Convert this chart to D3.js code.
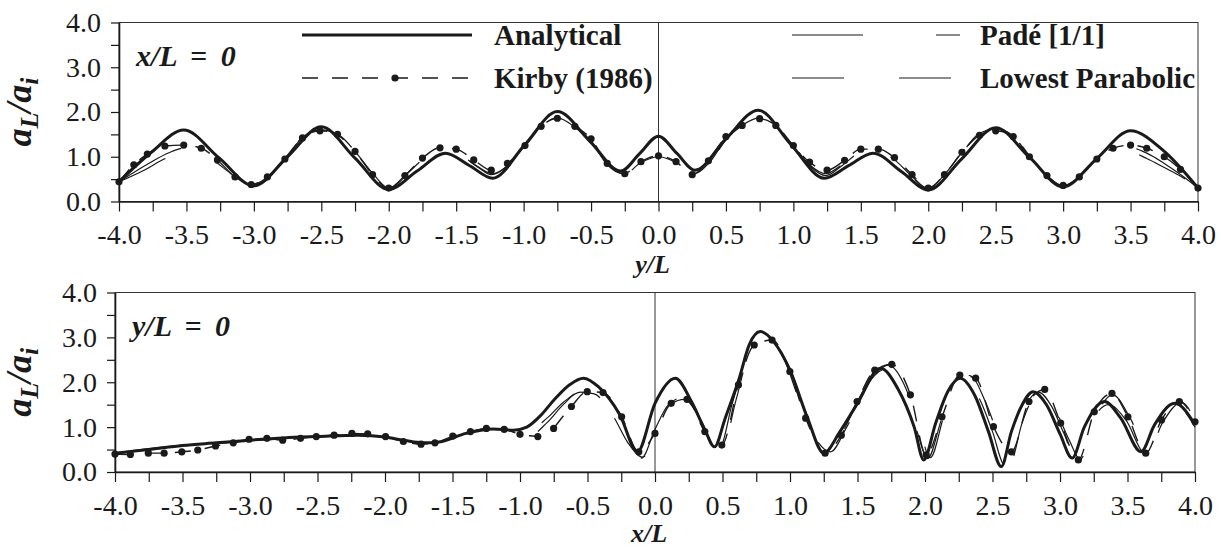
<!DOCTYPE html>
<html>
<head>
<meta charset="utf-8">
<script src="https://cdn.jsdelivr.net/npm/d3@7"></script>
<style>
  body { margin: 0; background: #fff; }
  svg text { font-family: "Liberation Serif", "DejaVu Serif", "Noto Serif", Times, serif; fill: #1a1a1a; }
</style>
</head>
<body>
<div id="chart"></div>
<script>
// tick values
var xTickValues = [-4, -3.75, -3.5, -3.25, -3, -2.75, -2.5, -2.25, -2, -1.75, -1.5, -1.25, -1, -0.75, -0.5, -0.25,
    0, 0.25, 0.5, 0.75, 1, 1.25, 1.5, 1.75, 2, 2.25, 2.5, 2.75, 3, 3.25, 3.5, 3.75, 4];
var xLabelValues = [-4, -3.5, -3, -2.5, -2, -1.5, -1, -0.5, 0, 0.5, 1, 1.5, 2, 2.5, 3, 3.5, 4];
var yTickValues = [0, 0.5, 1, 1.5, 2, 2.5, 3, 3.5, 4];
var yLabelValues = [0, 1, 2, 3, 4];

var seriesNames = ["Analytical", "Kirby (1986)", "Padé [1/1]", "Lowest Parabolic"];

// top panel, x/L = 0, against y/L
var topAnalytical = [[-4.0, 0.44], [-3.76, 1.1], [-3.52, 1.60], [-3.26, 0.98], [-3.0, 0.35], [-2.75, 1.0], [-2.5, 1.67],
    [-2.25, 0.97], [-2.0, 0.27], [-1.79, 0.68], [-1.58, 1.08], [-1.4, 0.8], [-1.23, 0.52], [-0.99, 1.27], [-0.75, 2.01],
    [-0.51, 1.35], [-0.28, 0.68], [-0.14, 1.07], [0.0, 1.46], [0.135, 1.08], [0.27, 0.70], [0.5, 1.4], [0.74, 2.04],
    [0.98, 1.28], [1.23, 0.52], [1.41, 0.8], [1.59, 1.08], [1.8, 0.67], [2.0, 0.26], [2.25, 0.96], [2.5, 1.65],
    [2.75, 0.99], [3.0, 0.33], [3.25, 0.96], [3.5, 1.58], [3.75, 1.12], [4.0, 0.30]];
var topKirby = [[-4.0, 0.44], [-3.89, 0.82], [-3.79, 1.06], [-3.66, 1.24], [-3.52, 1.26], [-3.39, 1.19], [-3.27, 0.93],
    [-3.14, 0.55], [-3.02, 0.38], [-2.9, 0.55], [-2.77, 0.95], [-2.64, 1.42], [-2.51, 1.58], [-2.38, 1.5], [-2.25, 1.12],
    [-2.12, 0.6], [-2.0, 0.3], [-1.88, 0.58], [-1.75, 0.97], [-1.62, 1.2], [-1.5, 1.17], [-1.37, 0.93], [-1.24, 0.70],
    [-1.12, 0.85], [-0.99, 1.25], [-0.87, 1.68], [-0.75, 1.86], [-0.62, 1.68], [-0.5, 1.4], [-0.38, 0.85], [-0.25, 0.62],
    [-0.13, 0.89], [0.0, 1.02], [0.13, 0.89], [0.25, 0.6], [0.37, 0.91], [0.5, 1.45], [0.62, 1.7], [0.75, 1.85],
    [0.87, 1.7], [1.0, 1.25], [1.12, 0.88], [1.25, 0.70], [1.38, 0.92], [1.5, 1.17], [1.63, 1.17], [1.75, 0.98],
    [1.88, 0.6], [2.0, 0.3], [2.12, 0.6], [2.25, 1.1], [2.38, 1.48], [2.5, 1.58], [2.63, 1.45], [2.75, 1.0],
    [2.88, 0.58], [3.0, 0.36], [3.12, 0.55], [3.25, 0.95], [3.37, 1.19], [3.5, 1.26], [3.62, 1.19], [3.75, 1.0],
    [3.87, 0.72], [4.0, 0.30]];
var topPade = [[-4.0, 0.44], [-3.78, 0.85], [-3.63, 1.09], [-3.5, 1.2], [-3.38, 1.12], [-3.26, 0.9], [-3.13, 0.56],
    [-3.01, 0.37], [-2.9, 0.55], [-2.77, 0.97], [-2.63, 1.45], [-2.5, 1.62], [-2.37, 1.5], [-2.24, 1.08], [-2.11, 0.6],
    [-2.0, 0.29], [-1.88, 0.55], [-1.75, 0.92], [-1.6, 1.14], [-1.45, 1.0], [-1.33, 0.75], [-1.24, 0.6], [-1.12, 0.8],
    [-1.0, 1.25], [-0.87, 1.7], [-0.75, 1.9], [-0.62, 1.68], [-0.5, 1.35], [-0.38, 0.82], [-0.26, 0.62], [-0.13, 0.88],
    [0.0, 1.02], [0.13, 0.88], [0.26, 0.62], [0.38, 0.88], [0.5, 1.4], [0.62, 1.72], [0.75, 1.9], [0.87, 1.7],
    [1.0, 1.25], [1.12, 0.8], [1.24, 0.58], [1.36, 0.8], [1.5, 1.1], [1.62, 1.14], [1.75, 0.92], [1.88, 0.55],
    [2.0, 0.28], [2.12, 0.6], [2.25, 1.1], [2.37, 1.52], [2.5, 1.64], [2.63, 1.48], [2.76, 0.98], [2.89, 0.55],
    [3.0, 0.34], [3.12, 0.56], [3.25, 0.95], [3.38, 1.15], [3.5, 1.2], [3.62, 1.08], [3.75, 0.85], [3.88, 0.58],
    [4.0, 0.30]];
var topLowest = [[-4.0, 0.44], [-3.8, 0.72], [-3.69, 0.91], [-3.55, 1.08], [-3.42, 1.1], [-3.3, 0.92], [-3.16, 0.6],
    [-3.02, 0.36], [-2.9, 0.56], [-2.77, 0.98], [-2.63, 1.46], [-2.5, 1.6], [-2.37, 1.47], [-2.24, 1.05], [-2.11, 0.58],
    [-2.0, 0.3], [-1.88, 0.58], [-1.74, 0.95], [-1.6, 1.12], [-1.46, 1.02], [-1.34, 0.78], [-1.23, 0.62], [-1.11, 0.82],
    [-0.99, 1.25], [-0.87, 1.68], [-0.75, 1.87], [-0.62, 1.66], [-0.5, 1.33], [-0.38, 0.8], [-0.26, 0.6], [-0.13, 0.87],
    [0.0, 1.0], [0.13, 0.87], [0.26, 0.6], [0.38, 0.86], [0.5, 1.38], [0.62, 1.7], [0.75, 1.87], [0.87, 1.68],
    [1.0, 1.25], [1.12, 0.82], [1.24, 0.62], [1.36, 0.82], [1.5, 1.08], [1.62, 1.12], [1.75, 0.93], [1.88, 0.56],
    [2.0, 0.29], [2.12, 0.58], [2.25, 1.08], [2.37, 1.5], [2.5, 1.62], [2.63, 1.47], [2.76, 0.97], [2.89, 0.55],
    [3.0, 0.35], [3.12, 0.55], [3.25, 0.92], [3.38, 1.08], [3.5, 1.1], [3.62, 0.96], [3.75, 0.76], [3.88, 0.55],
    [4.0, 0.30]];

// bottom panel, y/L = 0, against x/L
var botAnalytical = [[-4.0, 0.42], [-3.75, 0.5], [-3.5, 0.59], [-3.25, 0.65], [-3.0, 0.71], [-2.75, 0.76], [-2.5, 0.79],
    [-2.2, 0.82], [-2.0, 0.78], [-1.85, 0.7], [-1.72, 0.65], [-1.6, 0.67], [-1.4, 0.86], [-1.2, 0.96], [-1.05, 0.93],
    [-0.95, 1.0], [-0.85, 1.25], [-0.75, 1.6], [-0.63, 1.95], [-0.53, 2.09], [-0.42, 1.9], [-0.26, 1.27], [-0.13, 0.45],
    [0.0, 1.53], [0.15, 2.09], [0.27, 1.57], [0.37, 0.94], [0.44, 0.56], [0.52, 1.2], [0.62, 2.05], [0.7, 2.85],
    [0.78, 3.13], [0.88, 2.9], [1.0, 2.27], [1.13, 1.2], [1.25, 0.42], [1.37, 0.9], [1.5, 1.53], [1.67, 2.31],
    [1.8, 1.85], [1.92, 1.0], [1.99, 0.27], [2.08, 1.1], [2.17, 1.8], [2.26, 2.09], [2.37, 1.7], [2.47, 0.9],
    [2.565, 0.12], [2.64, 0.9], [2.72, 1.5], [2.80, 1.79], [2.9, 1.5], [3.0, 0.85], [3.09, 0.31], [3.18, 1.0],
    [3.33, 1.57], [3.45, 1.2], [3.6, 0.45], [3.7, 1.05], [3.85, 1.53], [4.0, 1.05]];
var botKirby = [[-4.0, 0.40], [-3.886, 0.39], [-3.753, 0.42], [-3.636, 0.42], [-3.505, 0.45], [-3.387, 0.49],
    [-3.255, 0.58], [-3.124, 0.65], [-3.007, 0.73], [-2.875, 0.75], [-2.758, 0.71], [-2.626, 0.75], [-2.509, 0.79],
    [-2.377, 0.82], [-2.245, 0.86], [-2.128, 0.85], [-1.996, 0.79], [-1.864, 0.68], [-1.733, 0.62], [-1.63, 0.65],
    [-1.498, 0.80], [-1.367, 0.90], [-1.249, 0.97], [-1.117, 0.95], [-1.0, 0.84], [-0.868, 0.79], [-0.81, null],
    [-0.751, 0.97], [-0.619, 1.46], [-0.502, 1.79], [-0.385, 1.77], [-0.247, 1.23], [-0.12, 0.45], [0.0, 0.86],
    [0.12, 1.53], [0.237, 1.62], [0.369, 0.90], [0.495, 0.60], [0.618, 1.94], [0.735, 2.83], [0.867, 2.94],
    [0.999, 2.24], [1.116, 1.20], [1.26, 0.42], [1.38, 0.82], [1.497, 1.57], [1.628, 2.27], [1.754, 2.40],
    [1.892, 1.72], [2.009, 0.38], [2.126, 1.23], [2.258, 2.16], [2.375, 2.09], [2.507, 1.01], [2.64, 0.45],
    [2.77, 1.57], [2.887, 1.84], [3.005, 1.09], [3.136, 0.27], [3.254, 1.34], [3.385, 1.75], [3.503, 1.23],
    [3.635, 0.42], [3.752, 1.16], [3.884, 1.57], [4.0, 1.12]];
var botPade = [[-4.0, 0.42], [-3.75, 0.52], [-3.5, 0.6], [-3.25, 0.66], [-3.0, 0.72], [-2.75, 0.76], [-2.5, 0.8],
    [-2.25, 0.83], [-2.0, 0.79], [-1.85, 0.7], [-1.72, 0.64], [-1.6, 0.67], [-1.4, 0.86], [-1.2, 0.95], [-1.05, 0.92],
    [-0.92, 0.95], [-0.8, 1.2], [-0.68, 1.55], [-0.55, 1.78], [-0.45, 1.74], [-0.32, 1.3], [-0.2, 0.7], [-0.1, 0.31],
    [0.0, 0.95], [0.1, 1.5], [0.2, 1.65], [0.3, 1.35], [0.4, 0.8], [0.48, 0.55], [0.57, 1.5], [0.68, 2.6],
    [0.8, 3.05], [0.9, 2.85], [1.02, 2.1], [1.15, 1.1], [1.28, 0.42], [1.4, 0.95], [1.55, 1.85], [1.7, 2.28],
    [1.82, 1.8], [1.93, 1.0], [2.02, 0.3], [2.12, 1.15], [2.2, 1.8], [2.29, 2.05], [2.4, 1.65], [2.5, 0.9],
    [2.59, 0.15], [2.68, 0.95], [2.76, 1.55], [2.84, 1.78], [2.94, 1.45], [3.03, 0.85], [3.12, 0.28], [3.22, 1.05],
    [3.36, 1.5], [3.49, 1.15], [3.63, 0.42], [3.73, 1.05], [3.87, 1.45], [4.0, 1.0]];
var botLowest = [[-4.0, 0.4], [-3.75, 0.5], [-3.5, 0.57], [-3.25, 0.63], [-3.0, 0.7], [-2.75, 0.74], [-2.5, 0.78],
    [-2.25, 0.82], [-2.0, 0.78], [-1.85, 0.68], [-1.72, 0.62], [-1.6, 0.66], [-1.4, 0.87], [-1.2, 0.96], [-1.05, 0.9],
    [-0.92, 0.83], [-0.8, 1.1], [-0.68, 1.5], [-0.55, 1.8], [-0.42, 1.75], [-0.3, 1.2], [-0.2, 0.65], [-0.09, 0.33],
    [0.02, 0.98], [0.12, 1.52], [0.22, 1.62], [0.33, 1.2], [0.42, 0.72], [0.5, 0.55], [0.6, 1.6], [0.7, 2.65],
    [0.83, 2.98], [0.95, 2.55], [1.08, 1.5], [1.2, 0.7], [1.3, 0.45], [1.42, 1.0], [1.58, 1.95], [1.73, 2.38],
    [1.86, 1.85], [1.96, 0.95], [2.04, 0.32], [2.14, 1.25], [2.24, 2.0], [2.33, 2.15], [2.45, 1.55], [2.55, 0.75],
    [2.63, 0.2], [2.72, 1.1], [2.8, 1.65], [2.88, 1.82], [2.98, 1.3], [3.07, 0.7], [3.15, 0.28], [3.26, 1.2],
    [3.39, 1.72], [3.52, 1.2], [3.65, 0.43], [3.76, 1.1], [3.9, 1.55], [4.0, 1.15]];

var ink = "#1a1a1a";
var serif = "'Liberation Serif', 'DejaVu Serif', 'Noto Serif', Times, serif";
var svg = d3.select("#chart").append("svg")
    .attr("width", 1221)
    .attr("height", 548);

var panels = [
    { left: 119, right: 1198, top: 22.5, bottom: 201.5, label: ["x", "/L = 0"], title: ["y", "/L"], titleY: 273,
      data: [topPade, topLowest, topKirby, topAnalytical] },
    { left: 115, right: 1195, top: 292.5, bottom: 472, label: ["y", "/L = 0"], title: ["x", "/L"], titleY: 542,
      data: [botPade, botLowest, botKirby, botAnalytical] }
];

var styles = [
    { width: 1.2, dash: "71 73" },
    { width: 1.2, dash: "52 55" },
    { width: 1.4, dash: "16 14" },
    { width: 3, dash: null }
];

panels.forEach(function (p) {
    var x = d3.scaleLinear().domain([-4, 4]).range([p.left, p.right]);
    var y = d3.scaleLinear().domain([0, 4]).range([p.bottom, p.top]);

    var g = svg.append("g");

    // frame
    g.append("rect")
        .attr("x", p.left).attr("y", p.top)
        .attr("width", p.right - p.left).attr("height", p.bottom - p.top)
        .attr("fill", "none").attr("stroke", "#333").attr("stroke-width", 1);

    // zero line
    g.append("line")
        .attr("x1", x(0)).attr("x2", x(0))
        .attr("y1", p.top).attr("y2", p.bottom)
        .attr("stroke", "#333").attr("stroke-width", 1);

    var xAxis = d3.axisBottom(x)
        .tickValues(xTickValues)
        .tickSize(10)
        .tickSizeOuter(0)
        .tickPadding(13)
        .tickFormat(function (d) {
            return xLabelValues.indexOf(d) >= 0 ? d.toFixed(1) : "";
        });
    var gx = g.append("g")
        .attr("transform", "translate(0," + p.bottom + ")")
        .call(xAxis);

    var yAxis = d3.axisLeft(y)
        .tickValues(yTickValues)
        .tickSize(8)
        .tickSizeOuter(0)
        .tickPadding(10)
        .tickFormat(function (d) {
            return yLabelValues.indexOf(d) >= 0 ? d.toFixed(1) : "";
        });
    var gy = g.append("g")
        .attr("transform", "translate(" + p.left + ",0)")
        .call(yAxis);

    [gx, gy].forEach(function (a) {
        a.attr("font-size", 28).attr("font-family", serif);
        a.select(".domain").attr("stroke", ink).attr("stroke-width", 1.6);
        a.selectAll(".tick line").attr("stroke", ink).attr("stroke-width", 1.2);
        a.selectAll(".tick text").attr("fill", ink).style("font-family", serif);
    });

    // curves
    var line = d3.line()
        .defined(function (d) { return d[1] != null; })
        .x(function (d) { return x(d[0]); })
        .y(function (d) { return y(d[1]); })
        .curve(d3.curveMonotoneX);

    p.data.forEach(function (s, i) {
        g.append("path")
            .datum(s)
            .attr("d", line)
            .attr("fill", "none")
            .attr("stroke", ink)
            .attr("stroke-width", styles[i].width)
            .attr("stroke-dasharray", styles[i].dash)
            .attr("stroke-linejoin", "round");
    });

    // Kirby markers
    g.selectAll(".dot")
        .data(p.data[2].filter(function (d) { return d[1] != null; }))
        .enter()
        .append("circle")
        .attr("cx", function (d) { return x(d[0]); })
        .attr("cy", function (d) { return y(d[1]); })
        .attr("r", 3.6)
        .attr("fill", ink);

    // panel label
    var lab = g.append("text")
        .attr("x", p.left + 17)
        .attr("y", p.top + 43)
        .attr("font-size", 30)
        .attr("font-weight", "bold")
        .attr("font-style", "italic")
        .attr("word-spacing", 6)
        .style("font-family", serif);
    lab.append("tspan").text(p.label[0]);
    lab.append("tspan").text(p.label[1]);

    // axis title
    var t = g.append("text")
        .attr("x", x(0) - 6)
        .attr("y", p.titleY)
        .attr("text-anchor", "middle")
        .attr("font-size", 26)
        .attr("font-weight", "bold")
        .attr("font-style", "italic")
        .style("font-family", serif);
    t.append("tspan").text(p.title[0]);
    t.append("tspan").text(p.title[1]);

    // y title a_L / a_i
    var yt = g.append("text")
        .attr("transform", "translate(31," + ((p.top + p.bottom) / 2) + ") rotate(-90)")
        .attr("text-anchor", "middle")
        .attr("font-size", 36)
        .attr("font-weight", "bold")
        .attr("font-style", "italic")
        .style("font-family", serif);
    yt.append("tspan").text("a");
    yt.append("tspan").attr("dy", 7).attr("font-size", 26).text("L");
    yt.append("tspan").attr("dy", -7).text("/a");
    yt.append("tspan").attr("dy", 7).attr("font-size", 26).text("i");
});

// legend
var legend = svg.append("g");
var legendItems = [
    { x1: 302, x2: 472, y: 35, tx: 494, style: styles[3], name: seriesNames[0], dot: false },
    { x1: 302, x2: 472, y: 78, tx: 494, style: styles[2], name: seriesNames[1], dot: true },
    { x1: 792, x2: 960, y: 35, tx: 980, style: styles[0], name: seriesNames[2], dot: false },
    { x1: 792, x2: 960, y: 78, tx: 980, style: styles[1], name: seriesNames[3], dot: false }
];
legendItems.forEach(function (it) {
    legend.append("line")
        .attr("x1", it.x1).attr("x2", it.x2)
        .attr("y1", it.y).attr("y2", it.y)
        .attr("stroke", ink)
        .attr("stroke-width", it.style.width)
        .attr("stroke-dasharray", it.style.dash);
    if (it.dot) {
        legend.append("circle")
            .attr("cx", (it.x1 + it.x2) / 2 + 8)
            .attr("cy", it.y)
            .attr("r", 3.6)
            .attr("fill", ink);
    }
    legend.append("text")
        .attr("x", it.tx)
        .attr("y", it.y + 10)
        .attr("font-size", 29)
        .attr("font-weight", "bold")
        .style("font-family", serif)
        .text(it.name);
});
</script>
</body>
</html>
